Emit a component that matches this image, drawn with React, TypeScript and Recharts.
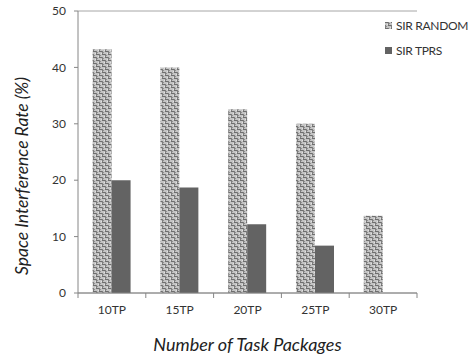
import React from "react";
import { BarChart, Bar, XAxis, YAxis, CartesianGrid } from "recharts";

// Task package counts along the horizontal axis
const categories = ["10TP", "15TP", "20TP", "25TP", "30TP"];
// Space interference rate (%) for each scheduling strategy
const sirRandom = [43.2, 40.0, 32.6, 30.0, 13.7];
const sirTprs = [20.0, 18.7, 12.2, 8.4, 0];
const yTicks = [0, 10, 20, 30, 40, 50];

const data = categories.map((name, i) => ({
  name,
  random: sirRandom[i],
  tprs: sirTprs[i],
}));

const FONT = "Lato, 'Open Sans', sans-serif";
const AXIS = "#868686";
const GRID = "#a6a6a6";
const TEXT = "#333333";
const X_TICK_SIZE = 5;
const X_TICK_MARGIN = 7;

const legendItems = [
  { label: "SIR RANDOM", fill: "url(#weave)" },
  { label: "SIR TPRS", fill: "#636363" },
];

function WeaveDefs() {
  return (
    <pattern id="weave" patternUnits="userSpaceOnUse" width={6} height={6}>
      <rect width={6} height={6} fill="#c4c4c4" />
      <rect x={0} y={0} width={3} height={1} fill="#6e6e6e" />
      <rect x={3} y={0} width={1} height={3} fill="#7e7e7e" />
      <rect x={3} y={3} width={3} height={1} fill="#6e6e6e" />
      <rect x={0} y={3} width={1} height={3} fill="#7e7e7e" />
      <rect x={1} y={4} width={1} height={1} fill="#909090" />
      <rect x={4} y={1} width={1} height={1} fill="#909090" />
      <rect x={5} y={5} width={1} height={1} fill="#e2e2e2" />
      <rect x={2} y={2} width={1} height={1} fill="#e2e2e2" />
    </pattern>
  );
}

// Category label with tick marks on the band edges (between categories)
function CategoryTick(props: any) {
  const { x, y, payload, index } = props;
  const half = payload?.offset ?? 0;
  const axisY = y - X_TICK_SIZE - X_TICK_MARGIN;
  const last = index === categories.length - 1;
  return (
    <g>
      <line
        x1={x - half}
        x2={x - half}
        y1={axisY}
        y2={axisY + X_TICK_SIZE}
        stroke={AXIS}
      />
      {last && (
        <line
          x1={x + half}
          x2={x + half}
          y1={axisY}
          y2={axisY + X_TICK_SIZE}
          stroke={AXIS}
        />
      )}
      <text
        x={x}
        y={y}
        dy="0.71em"
        textAnchor="middle"
        fontFamily={FONT}
        fontSize={12}
        fill={TEXT}
      >
        {payload.value}
      </text>
    </g>
  );
}

function ChartLegend() {
  return (
    <div
      style={{
        position: "absolute",
        left: 385,
        top: 13,
        fontFamily: FONT,
        fontSize: 12,
        letterSpacing: -0.3,
        color: TEXT,
        whiteSpace: "nowrap",
      }}
    >
      {legendItems.map((it) => (
        <div
          key={it.label}
          style={{ display: "flex", alignItems: "center", height: 25 }}
        >
          <svg width={7} height={7} style={{ marginRight: 4 }}>
            <defs>
              <WeaveDefs />
            </defs>
            <rect width={7} height={7} fill={it.fill} />
          </svg>
          <span>{it.label}</span>
        </div>
      ))}
    </div>
  );
}

export default function App() {
  return (
    <div
      style={{
        position: "fixed",
        left: 0,
        top: 0,
        width: 473,
        height: 357,
        background: "#fff",
      }}
    >
      <BarChart
        width={473}
        height={357}
        data={data}
        margin={{ top: 11, right: 56, left: 0, bottom: 0 }}
        barCategoryGap="21.5%"
        barGap={0}
      >
        <defs>
          <WeaveDefs />
        </defs>
        <CartesianGrid vertical={false} stroke={GRID} />
        <XAxis
          dataKey="name"
          stroke={AXIS}
          tickLine={false}
          tickSize={X_TICK_SIZE}
          tickMargin={X_TICK_MARGIN}
          height={64}
          tick={<CategoryTick />}
          interval={0}
          label={{
            value: "Number of Task Packages",
            position: "insideBottom",
            offset: 6,
            style: {
              fontFamily: FONT,
              fontSize: 18,
              fontStyle: "italic",
              fill: "#222",
            },
          }}
        />
        <YAxis
          yAxisId="left"
          domain={[0, 50]}
          ticks={yTicks}
          width={78}
          stroke={AXIS}
          tickSize={4}
          tickMargin={8}
          tick={{ fontFamily: FONT, fontSize: 12, fill: TEXT }}
          label={{
            value: "Space Interference Rate  (%)",
            angle: -90,
            position: "insideLeft",
            offset: 22,
            dy: 24,
            style: {
              fontFamily: FONT,
              fontSize: 17.5,
              fontStyle: "italic",
              fill: "#222",
              textAnchor: "middle",
            },
          }}
        />
        <YAxis
          yAxisId="right"
          orientation="right"
          domain={[0, 50]}
          width={0}
          stroke={AXIS}
          tick={false}
          tickLine={false}
        />
        <Bar
          yAxisId="left"
          dataKey="random"
          name="SIR RANDOM"
          fill="url(#weave)"
          isAnimationActive={false}
        />
        <Bar
          yAxisId="left"
          dataKey="tprs"
          name="SIR TPRS"
          fill="#636363"
          isAnimationActive={false}
        />
      </BarChart>
      <ChartLegend />
    </div>
  );
}
